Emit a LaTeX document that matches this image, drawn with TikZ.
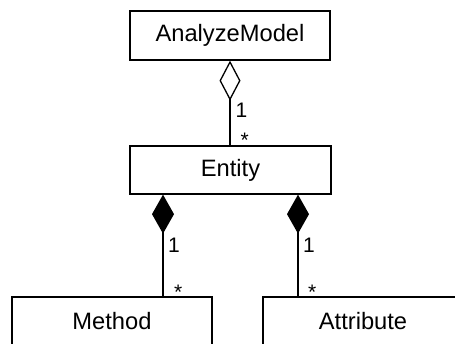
\documentclass[tikz,border=0pt]{standalone}
\usepackage{fontspec}
\setmainfont{Liberation Sans}
\usetikzlibrary{arrows.meta}
\begin{document}
\begin{tikzpicture}[x=1pt,y=-1pt,
  cls/.style={draw,line width=1.3pt,minimum width=200pt,minimum height=49pt,inner sep=0pt,font=\fontsize{23.7}{28}\selectfont},
  lbl/.style={inner sep=0pt,font=\fontsize{21}{25}\selectfont},
  agg/.style={line width=1.3pt,{Diamond[open,length=40pt,width=21pt]}-},
  comp/.style={line width=1.3pt,{Diamond[length=39pt,width=22pt]}-}]
\useasboundingbox (0,0) rectangle (455,344);
\node[cls] (am) at (230,35.5) {AnalyzeModel};
\node[cls,minimum width=201pt,minimum height=48pt] (en) at (230.5,170) {Entity};
\node[cls] (me) at (112,321.5) {Method};
\node[cls] (at) at (363,321.5) {Attribute};
\coordinate (c0) at (230,0);
\coordinate (c1) at (163,0);
\coordinate (c2) at (298,0);
\draw[agg] (am.south -| c0) -- (en.north -| c0);
\draw[comp] (en.south -| c1) -- (me.north -| c1);
\draw[comp] (en.south -| c2) -- (at.north -| c2);
\node[lbl,anchor=base west] (l0a) at (235.5,117.5) {1};
\node[lbl,anchor=base west] (l0b) at (240.4,147.5) {*};
\node[lbl,anchor=base west] (l1a) at (168,252.5) {1};
\node[lbl,anchor=base west] (l1b) at (174,300) {*};
\node[lbl,anchor=base west] (l2a) at (303,252.5) {1};
\node[lbl,anchor=base west] (l2b) at (308,300) {*};
\end{tikzpicture}
\end{document}
